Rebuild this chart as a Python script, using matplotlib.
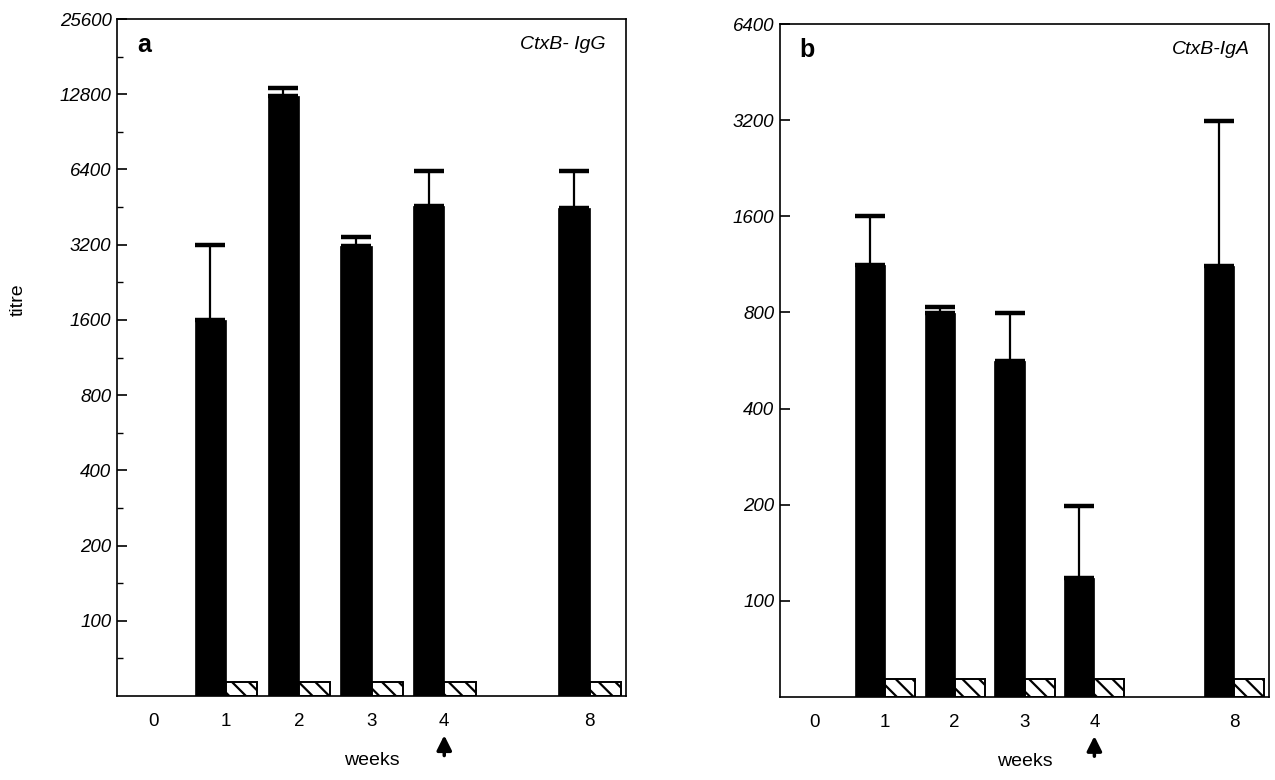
import matplotlib
matplotlib.use("Agg")
import matplotlib.pyplot as plt
from matplotlib.ticker import FixedLocator, NullFormatter, NullLocator

plt.rcParams["font.family"] = ["Liberation Sans", "DejaVu Sans"]
plt.rcParams["hatch.linewidth"] = 1.6

# weeks shown on the x axis; week 8 sits one slot past week 4
weeks = ["0", "1", "2", "3", "4", "8"]
slots = [0, 1, 2, 3, 4, 6]

# panel a: CtxB-IgG titres (mean and upper error bar), week 0 has no bar
igg_mean = [None, 1600, 12600, 3150, 4550, 4500]
igg_upper = [None, 3200, 13600, 3450, 6300, 6300]
# panel b: CtxB-IgA titres
iga_mean = [None, 1130, 797, 565, 118, 1120]
iga_upper = [None, 1600, 834, 797, 198, 3170]
# controls (hatched), just above the detection floor
ctrl = [None, 57, 57, 57, 57, 57]

igg_ticks = [100, 200, 400, 800, 1600, 3200, 6400, 12800, 25600]
iga_ticks = [100, 200, 400, 800, 1600, 3200, 6400]

W = 0.43
FLOOR = 50


def panel(ax, mean, upper, cntl, ticks, ymax, letter, title, minor, capsize):
    xs = [s for s, m in zip(slots, mean) if m is not None]
    ms = [m for m in mean if m is not None]
    us = [u for u in upper if u is not None]
    cs = [c for c in cntl if c is not None]

    ax.set_yscale("log")
    ax.set_ylim(FLOOR, ymax)
    ax.set_xlim(-0.5, 6.5)

    ax.bar(xs, [m - FLOOR for m in ms], bottom=FLOOR, width=-W, align="edge",
           color="black", edgecolor="black", lw=0.5, zorder=2)
    ax.bar(xs, [c - FLOOR for c in cs], bottom=FLOOR, width=W, align="edge",
           color="white", edgecolor="black", hatch="\\\\", lw=1.4, zorder=2)
    ax.errorbar([x - W / 2 for x in xs], ms,
                yerr=[[0] * len(ms), [u - m for u, m in zip(us, ms)]],
                fmt="none", ecolor="black", elinewidth=1.6,
                capsize=capsize, capthick=3.2, zorder=3)

    ax.yaxis.set_major_locator(FixedLocator(ticks))
    ax.set_yticklabels([str(t) for t in ticks], style="italic", fontsize=13.5)
    if minor:
        ax.yaxis.set_minor_locator(FixedLocator([t * 2 ** 0.5 for t in [50] + ticks[:-1]]))
    else:
        ax.yaxis.set_minor_locator(NullLocator())
    ax.yaxis.set_minor_formatter(NullFormatter())
    ax.tick_params(axis="y", which="major", direction="in", length=7, width=1.2, pad=4)
    ax.tick_params(axis="y", which="minor", direction="in", length=4, width=1.0)
    ax.set_xticks(slots)
    ax.set_xticklabels(weeks, fontsize=13.5)
    ax.tick_params(axis="x", length=0, pad=12)

    for s in ax.spines.values():
        s.set_linewidth(1.2)

    ax.text(0.04, 0.962, letter, transform=ax.transAxes, fontsize=18,
            fontweight="bold", va="center", ha="left")
    ax.text(0.96, 0.962, title, transform=ax.transAxes, fontsize=14,
            style="italic", va="center", ha="right")
    ax.set_xlabel("weeks", fontsize=14, labelpad=16)

    # booster marker under week 4
    ax.annotate("", xy=(4, -0.058), xytext=(4, -0.088),
                xycoords=("data", "axes fraction"),
                textcoords=("data", "axes fraction"),
                arrowprops=dict(arrowstyle="-|>", lw=2.5, color="black",
                                mutation_scale=22, shrinkA=0, shrinkB=0))


fig = plt.figure(figsize=(12.75, 7.8), dpi=100)
ax_a = fig.add_axes([0.0918, 0.1077, 0.3992, 0.8679])
ax_b = fig.add_axes([0.6118, 0.1064, 0.3835, 0.8628])

panel(ax_a, igg_mean, igg_upper, ctrl, igg_ticks, 25600, "a", "CtxB- IgG", True, 11)
panel(ax_b, iga_mean, iga_upper, ctrl, iga_ticks, 6400, "b", "CtxB-IgA", False, 10.5)

fig.text(18 / 1275, 1 - 300 / 780, "titre", rotation=90, fontsize=14,
         ha="center", va="center")

fig.savefig("out.png", dpi=100)
